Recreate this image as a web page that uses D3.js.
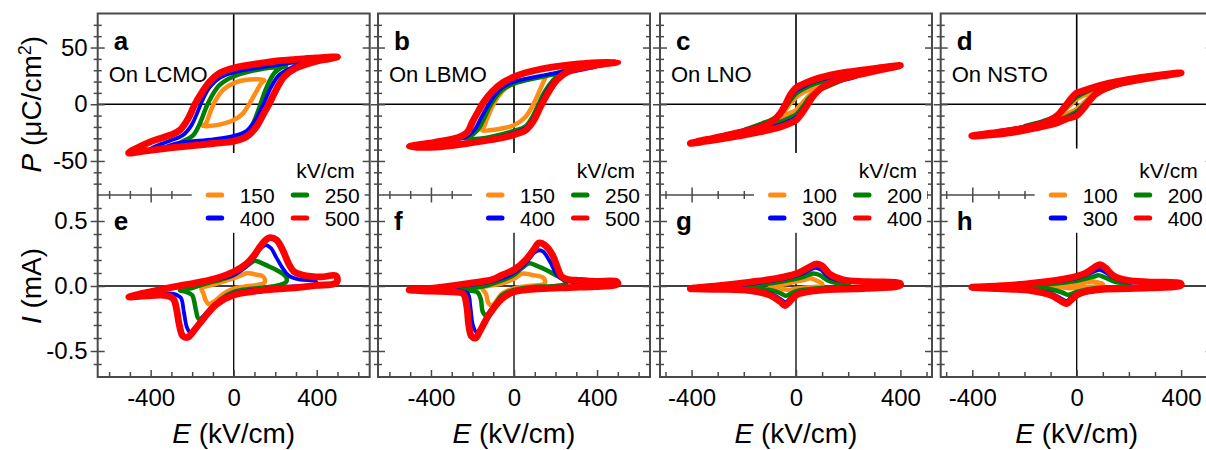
<!DOCTYPE html>
<html><head><meta charset="utf-8">
<script src="https://cdn.jsdelivr.net/npm/d3@7"></script>
<style>
body{margin:0;background:#fff}
svg{display:block}
text{font-family:"Liberation Sans",Arial,Helvetica,sans-serif;fill:#000}
</style></head>
<body><svg id="chart" width="1206" height="450"></svg>
<script>
// ---------------- DATA ----------------
const panelLetters = [["a","e"],["b","f"],["c","g"],["d","h"]];
const substrates = ["On LCMO","On LBMO","On LNO","On NSTO"];
const fieldsLBMO = ["150","250","400","500"];
const fieldsLNO = ["100","200","300","400"];
const seriesColors = ["#FF8C14","#008000","#0000FF","#FF0000"];
const xTickLabels = [-400, 0, 400];
const pTickLabels = [-50, 0, 50];
const iTickLabels = [-0.5, 0.0, 0.5];

// P-E loops, LCMO (E kV/cm, P uC/cm2)
const pLCMO150 = [[148,21],[61,21.6],[0,18.6],[-51,12.7],[-91,2.3],[-115,-8],[-134,-16.9],[-150,-19],[-83,-18.4],[0,-13.9],[45,-8],[77,0.9],[109,11.2],[133,18.6]];
const pLCMO250 = [[252,33.4],[140,31.3],[0,24.5],[-67,17.1],[-107,6.8],[-131,-2.1],[-163,-16.9],[-195,-27.3],[-259,-34.6],[-179,-34.6],[0,-30.8],[61,-25.8],[93,-16.9],[125,-2.1],[157,14.2],[196,27.5],[236,32.9]];
const pLCMO400 = [[410,39.5],[330,37.8],[220,35],[0,28],[-67,23.2],[-115,15.2],[-147,5],[-171,-5.5],[-203,-18.4],[-243,-27],[-307,-32.2],[-380,-37.2],[-410,-40.5],[-339,-38],[-259,-33.8],[-99,-30.9],[0,-27.9],[61,-23.6],[101,-15],[133,-3.6],[149,2.4],[180,15.2],[220,26],[284,32.8],[350,37]];
const pLCMO500 = [[500,41.7],[396,40.8],[300,39.5],[220,38.5],[140,36.4],[0,32],[-67,27.5],[-115,20],[-155,9.8],[-187,0],[-219,-12.5],[-259,-22.8],[-307,-27.3],[-402,-33.2],[-470,-39],[-506,-43],[-440,-41.5],[-402,-40.6],[-259,-37.6],[-99,-34.6],[0,-32.6],[61,-28.7],[109,-19.9],[141,-9.5],[170,0],[204,12.7],[244,24.5],[300,32],[396,37.8],[460,40]];
// I-E loops, LCMO (E kV/cm, I mA)
const iLCMO150 = [[-155,-0.02],[-100,0.01],[-40,0.04],[0,0.06],[40,0.085],[65,0.1],[100,0.09],[140,0.075],[150,0.05],[148,0.025],[100,0.005],[50,-0.005],[0,-0.02],[-50,-0.06],[-95,-0.12],[-120,-0.14],[-135,-0.11],[-145,-0.06]];
const iLCMO250 = [[-259,-0.035],[-200,-0.015],[-130,0.02],[-60,0.05],[0,0.085],[50,0.14],[85,0.18],[100,0.195],[130,0.18],[170,0.15],[210,0.12],[240,0.09],[255,0.06],[252,0.03],[200,0.0],[100,-0.02],[0,-0.045],[-60,-0.1],[-110,-0.18],[-150,-0.245],[-170,-0.25],[-180,-0.2],[-190,-0.12],[-200,-0.07],[-230,-0.045]];
const iLCMO400 = [[-410,-0.06],[-300,-0.015],[-163,0.025],[-83,0.05],[0,0.085],[60,0.15],[100,0.22],[130,0.29],[155,0.315],[180,0.29],[205,0.22],[235,0.14],[265,0.08],[316,0.05],[390,0.04],[400,0.025],[390,0.01],[316,0.0],[157,-0.02],[0,-0.055],[-83,-0.13],[-150,-0.24],[-190,-0.34],[-208,-0.36],[-225,-0.32],[-240,-0.2],[-255,-0.09],[-290,-0.06],[-360,-0.06]];
const iLCMO500 = [[-505,-0.085],[-420,-0.05],[-300,-0.01],[-163,0.03],[-83,0.06],[0,0.11],[61,0.17],[100,0.24],[135,0.32],[170,0.37],[205,0.355],[235,0.28],[265,0.17],[290,0.11],[330,0.085],[420,0.07],[490,0.08],[500,0.05],[490,0.02],[400,0.005],[316,-0.01],[157,-0.03],[0,-0.07],[-83,-0.14],[-140,-0.24],[-190,-0.34],[-222,-0.395],[-245,-0.385],[-262,-0.3],[-275,-0.18],[-290,-0.1],[-320,-0.075],[-420,-0.075]];

// P-E loops, LBMO
const pLBMO150 = [[152,24],[72,22.3],[0,18.8],[-56,11.3],[-96,1],[-128,-12],[-146,-20.5],[-152,-23],[-88,-22.3],[0,-18.5],[56,-11],[96,1],[128,14],[146,21.5]];
const pLBMO250 = [[248,30],[184,26.2],[56,21.1],[0,18.2],[-56,12.8],[-88,6.3],[-117,-2],[-144,-12.5],[-176,-23],[-216,-28.3],[-248,-29.5],[-168,-30.4],[0,-23.5],[56,-19.5],[91,-10.4],[117,-0.6],[144,9.8],[184,20.2],[224,27]];
const pLBMO400 = [[400,33.5],[296,30.7],[184,27],[56,22.3],[0,19.8],[-56,14.8],[-96,7.3],[-128,-2],[-160,-12.5],[-192,-23],[-232,-28.9],[-328,-32.4],[-400,-34.5],[-296,-35],[-136,-31.5],[0,-25.2],[56,-21],[96,-11],[123,-0.6],[152,9.8],[192,20.2],[264,27.7],[340,31]];
const pLBMO500 = [[500,37.2],[344,36],[184,32.7],[56,27.7],[0,24.1],[-56,18.8],[-104,11.3],[-144,2.4],[-168,-5],[-200,-15.5],[-224,-24.4],[-264,-28.9],[-376,-33.3],[-440,-35.2],[-504,-37.2],[-376,-37.8],[-216,-34.2],[-56,-29.5],[0,-26.8],[56,-22.9],[96,-14],[128,-2],[168,11.3],[208,21.7],[264,29.2],[392,34.2]];
// I-E loops, LBMO
const iLBMO150 = [[-152,-0.018],[-56,0.02],[0,0.055],[40,0.095],[88,0.085],[140,0.065],[150,0.04],[145,0.015],[72,0],[0,-0.018],[-56,-0.057],[-104,-0.148],[-122,-0.135],[-135,-0.06]];
const iLBMO250 = [[-264,-0.03],[-152,-0.005],[-56,0.045],[0,0.085],[40,0.14],[72,0.175],[110,0.155],[160,0.12],[200,0.085],[240,0.045],[252,0.02],[200,0.0],[104,-0.005],[0,-0.03],[-56,-0.07],[-104,-0.17],[-135,-0.225],[-150,-0.2],[-160,-0.1],[-175,-0.05],[-220,-0.035]];
const iLBMO400 = [[-400,-0.02],[-248,0.0],[-104,0.035],[0,0.1],[56,0.175],[100,0.26],[120,0.275],[140,0.265],[176,0.18],[205,0.09],[240,0.045],[300,0.025],[395,0.02],[400,0.005],[264,-0.005],[0,-0.04],[-56,-0.085],[-120,-0.21],[-160,-0.33],[-180,-0.355],[-198,-0.3],[-210,-0.16],[-222,-0.06],[-260,-0.035],[-330,-0.03]];
const iLBMO500 = [[-505,-0.03],[-376,-0.015],[-216,0.02],[-104,0.05],[-56,0.085],[0,0.125],[56,0.2],[95,0.28],[120,0.33],[152,0.31],[185,0.24],[210,0.14],[228,0.075],[260,0.05],[300,0.045],[392,0.035],[495,0.035],[500,0.015],[392,-0.005],[264,-0.012],[56,-0.03],[0,-0.045],[-56,-0.095],[-120,-0.22],[-165,-0.35],[-185,-0.4],[-205,-0.385],[-218,-0.3],[-228,-0.15],[-245,-0.06],[-300,-0.045],[-400,-0.04]];

// P-E loops, LNO
const pLNO100 = [[100,16],[60,14],[25,10],[0,6],[-20,1],[-30,-2],[-50,-8],[-75,-12.5],[-100,-15],[-60,-12],[-25,-8],[0,-5],[20,0],[35,4],[60,10],[80,13.5]];
const pLNO200 = [[200,24],[120,21],[60,17],[20,12.5],[0,9.5],[-20,4],[-32,0],[-50,-6],[-80,-12],[-130,-17],[-200,-23],[-130,-19.5],[-60,-15.5],[-20,-11.5],[0,-9],[20,-4],[33,0],[50,5.5],[80,11.5],[130,16.5]];
const pLNO300 = [[300,29.5],[200,26.5],[120,23],[60,19],[20,14.5],[0,12],[-20,6],[-35,0],[-55,-7],[-85,-13.5],[-140,-19],[-220,-24],[-300,-28.5],[-220,-26],[-140,-22.5],[-60,-18],[-20,-14],[0,-11.5],[20,-6],[38,0],[58,6.5],[90,13],[145,19],[220,23.5]];
const pLNO400 = [[400,34.2],[300,31.5],[200,28.5],[120,25],[60,21],[20,17],[0,14.5],[-20,9],[-40,0],[-60,-8],[-90,-15],[-140,-20.5],[-220,-25],[-310,-29.5],[-405,-34.5],[-310,-31.5],[-220,-28],[-140,-24.5],[-60,-20],[-20,-16.5],[0,-14],[25,-7],[45,0],[65,7],[95,14],[145,20],[220,25],[310,29.5]];
// I-E loops, LNO
const iLNO100 = [[-100,-0.01],[-40,0.015],[0,0.035],[30,0.045],[55,0.06],[80,0.04],[100,0.02],[100,0.005],[50,-0.01],[0,-0.02],[-25,-0.03],[-45,-0.025],[-70,-0.015]];
const iLNO200 = [[-200,-0.01],[-100,0.02],[0,0.055],[35,0.075],[65,0.097],[90,0.085],[120,0.045],[160,0.02],[200,0.015],[200,0.0],[100,-0.015],[0,-0.04],[-25,-0.065],[-40,-0.075],[-60,-0.055],[-100,-0.03],[-150,-0.02]];
const iLNO300 = [[-300,-0.015],[-176,0.015],[-74,0.045],[3,0.08],[30,0.1],[55,0.125],[75,0.14],[95,0.125],[125,0.07],[180,0.035],[300,0.02],[300,0.005],[180,-0.012],[79,-0.03],[3,-0.055],[-25,-0.1],[-40,-0.125],[-60,-0.1],[-100,-0.055],[-176,-0.03]];
const iLNO400 = [[-405,-0.02],[-304,0.0],[-176,0.03],[-74,0.058],[3,0.096],[28,0.12],[55,0.15],[79,0.17],[100,0.155],[130,0.09],[181,0.047],[270,0.033],[398,0.022],[400,0.005],[270,-0.018],[79,-0.035],[3,-0.068],[-29,-0.13],[-42,-0.15],[-61,-0.12],[-100,-0.07],[-176,-0.036],[-304,-0.025]];

// P-E loops, NSTO
const pNSTO100 = [[100,13],[60,11],[25,7.5],[0,4.5],[-25,-1],[-50,-6],[-75,-10],[-100,-12.5],[-60,-10.5],[-25,-7],[0,-4],[25,1],[50,6],[75,10]];
const pNSTO200 = [[200,20.5],[120,17],[60,13],[20,9],[0,6.5],[-25,1],[-50,-5],[-80,-10.5],[-130,-15],[-200,-19.5],[-130,-17],[-60,-13],[-20,-9],[0,-6.5],[25,-1],[50,5],[80,10],[130,14.5]];
const pNSTO300 = [[300,24.5],[200,21],[120,17.5],[60,13.5],[20,10],[0,8],[-25,2],[-40,-2],[-65,-8],[-100,-13],[-160,-17.5],[-230,-21],[-300,-23.5],[-230,-22.5],[-160,-19.5],[-80,-15.5],[-30,-11],[0,-8],[25,-2],[40,2],[65,8],[100,12.5],[160,17],[230,20.5]];
const pNSTO400 = [[400,27.7],[300,25.3],[200,22],[120,18.5],[60,14.5],[20,11.5],[0,10],[-25,4],[-45,-2],[-70,-9],[-110,-15],[-170,-19.5],[-250,-23],[-330,-25.5],[-402,-28],[-330,-27],[-250,-25],[-170,-21.5],[-90,-17.5],[-40,-13],[0,-10],[25,-4],[45,2],[70,8.5],[110,14],[170,18.5],[250,22],[330,25]];
// I-E loops, NSTO
const iNSTO100 = [[-100,-0.005],[-40,0.01],[0,0.02],[40,0.03],[62,0.035],[85,0.025],[100,0.015],[100,0.005],[50,-0.005],[0,-0.012],[-20,-0.018],[-40,-0.015],[-70,-0.008]];
const iNSTO200 = [[-200,-0.008],[-100,0.015],[0,0.04],[40,0.06],[70,0.075],[82,0.083],[110,0.065],[150,0.03],[200,0.015],[200,0.002],[100,-0.012],[30,-0.03],[0,-0.045],[-20,-0.06],[-33,-0.068],[-55,-0.05],[-100,-0.025],[-150,-0.015]];
const iNSTO300 = [[-300,-0.01],[-176,0.012],[-74,0.035],[0,0.06],[35,0.085],[65,0.11],[88,0.125],[110,0.105],[140,0.065],[190,0.03],[300,0.018],[300,0.005],[190,-0.01],[100,-0.02],[30,-0.04],[0,-0.06],[-25,-0.095],[-39,-0.115],[-60,-0.095],[-100,-0.055],[-176,-0.028]];
const iNSTO400 = [[-402,-0.01],[-300,0.0],[-176,0.02],[-74,0.045],[0,0.075],[35,0.1],[65,0.14],[88,0.165],[110,0.14],[140,0.08],[190,0.045],[280,0.03],[398,0.02],[400,0.005],[280,-0.015],[100,-0.025],[30,-0.045],[0,-0.07],[-25,-0.115],[-39,-0.135],[-60,-0.115],[-100,-0.07],[-176,-0.035],[-300,-0.02]];

// ---------------- LAYOUT ----------------
const svg = d3.select("#chart");
const panelLeft = [97.7, 378, 660, 940.7];
const panelW = 272;
const topY0 = 13.5, midY = 195, botY1 = 377;
const xExtent = [655, 655, 521, 521];
const lineWidths = [4.5, 4.5, 3.8, 6.8];
const borderColor = "#4a4a4a";

const panels = [
  {fields: fieldsLBMO, P: [pLCMO150,pLCMO250,pLCMO400,pLCMO500], I: [iLCMO150,iLCMO250,iLCMO400,iLCMO500], vEnd: -43},
  {fields: fieldsLBMO, P: [pLBMO150,pLBMO250,pLBMO400,pLBMO500], I: [iLBMO150,iLBMO250,iLBMO400,iLBMO500], vEnd: -43},
  {fields: fieldsLNO,  P: [pLNO100,pLNO200,pLNO300,pLNO400],     I: [iLNO100,iLNO200,iLNO300,iLNO400],     vEnd: -43},
  {fields: fieldsLNO,  P: [pNSTO100,pNSTO200,pNSTO300,pNSTO400], I: [iNSTO100,iNSTO200,iNSTO300,iNSTO400], vEnd: -39}
];

const yP = d3.scaleLinear().domain([-80, 80]).range([midY, topY0]);
const yI = d3.scaleLinear().domain([-0.7, 0.7]).range([botY1, midY]);

function styleTicks(g, color) {
  g.select(".domain").remove();
  g.selectAll(".tick line").attr("stroke", color).attr("stroke-width", 1.5);
  g.selectAll(".tick text").attr("font-size", 24).attr("font-family", "Liberation Sans, Arial, sans-serif").attr("fill", "#000");
}

panels.forEach((p, k) => {
  const L = panelLeft[k], R = L + panelW;
  const x = d3.scaleLinear().domain([-xExtent[k], xExtent[k]]).range([L, R]);
  const minorX = d3.range(-600, 601, 100).filter(v => Math.abs(v) <= xExtent[k] && !xTickLabels.includes(v));
  const g = svg.append("g");

  // ---- zero lines
  g.append("line").attr("x1", L).attr("x2", R).attr("y1", yP(0)).attr("y2", yP(0)).attr("stroke", "#000").attr("stroke-width", 1.6);
  g.append("line").attr("x1", x(0)).attr("x2", x(0)).attr("y1", yP(80)).attr("y2", yP(p.vEnd)).attr("stroke", "#000").attr("stroke-width", 1.6);
  g.append("line").attr("x1", L).attr("x2", R).attr("y1", yI(0)).attr("y2", yI(0)).attr("stroke", "#000").attr("stroke-width", 1.3);
  g.append("line").attr("x1", x(0)).attr("x2", x(0)).attr("y1", yI(0.41)).attr("y2", yI(-0.7)).attr("stroke", "#000").attr("stroke-width", 1.3);

  // ---- data loops
  const lineP = d3.line().x(d => x(d[0])).y(d => yP(d[1])).curve(d3.curveCatmullRomClosed.alpha(0.5));
  const lineI = d3.line().x(d => x(d[0])).y(d => yI(d[1])).curve(d3.curveCatmullRomClosed.alpha(0.5));
  p.P.forEach((arr, s) => {
    g.append("path").attr("d", lineP(arr)).attr("fill", "none").attr("stroke", seriesColors[s])
      .attr("stroke-width", lineWidths[s]).attr("stroke-linejoin", "round").attr("stroke-linecap", "round");
  });
  p.I.forEach((arr, s) => {
    g.append("path").attr("d", lineI(arr)).attr("fill", "none").attr("stroke", seriesColors[s])
      .attr("stroke-width", lineWidths[s]).attr("stroke-linejoin", "round").attr("stroke-linecap", "round");
  });

  // ---- frame
  const frame = svg.append("g");
  frame.append("path").attr("d", `M${L},${midY}V${topY0}H${R}V${botY1}H${L}Z`).attr("fill", "none").attr("stroke", borderColor).attr("stroke-width", 2);
  frame.append("line").attr("x1", L).attr("x2", R).attr("y1", midY).attr("y2", midY).attr("stroke", borderColor).attr("stroke-width", 1.6);

  // left axes: crossing ticks; right axes: inward ticks
  [[yP, pTickLabels, d3.range(-70, 71, 10).filter(v => !pTickLabels.includes(v)), d3.format("d")],
   [yI, iTickLabels, d3.range(-6, 7, 1).map(v => v / 10).filter(v => Math.abs(v) !== 0.5 && v !== 0), d3.format(".1f")]]
  .forEach(([ys, majors, minors, fmt]) => {
    const gm = frame.append("g").attr("transform", `translate(${L},0)`)
      .call(d3.axisLeft(ys).tickValues(minors).tickSize(4).tickFormat(""));
    styleTicks(gm, borderColor); gm.selectAll(".tick line").attr("x1", 4);
    const gM = frame.append("g").attr("transform", `translate(${L},0)`)
      .call(d3.axisLeft(ys).tickValues(majors).tickSize(7).tickPadding(3).tickFormat(k === 0 ? (v => fmt(v).replace("\u2212", "-")) : ""));
    styleTicks(gM, borderColor); gM.selectAll(".tick line").attr("x1", 7);
    const rm = frame.append("g").attr("transform", `translate(${R},0)`)
      .call(d3.axisLeft(ys).tickValues(minors).tickSize(4).tickFormat(""));
    styleTicks(rm, borderColor);
    const rM = frame.append("g").attr("transform", `translate(${R},0)`)
      .call(d3.axisLeft(ys).tickValues(majors).tickSize(7).tickFormat(""));
    styleTicks(rM, borderColor);
  });

  // middle axis (bottom of top panel): crossing ticks
  const mm = frame.append("g").attr("transform", `translate(0,${midY})`)
    .call(d3.axisBottom(x).tickValues(minorX).tickSize(4).tickFormat(""));
  styleTicks(mm, borderColor); mm.selectAll(".tick line").attr("y1", -4);
  const mM = frame.append("g").attr("transform", `translate(0,${midY})`)
    .call(d3.axisBottom(x).tickValues(xTickLabels).tickSize(7.5).tickFormat(""));
  styleTicks(mM, borderColor); mM.selectAll(".tick line").attr("y1", -7.5);

  // bottom axis: inward ticks, labels below
  const bm = frame.append("g").attr("transform", `translate(0,${botY1})`)
    .call(d3.axisBottom(x).tickValues(minorX).tickSize(-5).tickFormat(""));
  styleTicks(bm, borderColor);
  const bM = frame.append("g").attr("transform", `translate(0,${botY1})`)
    .call(d3.axisBottom(x).tickValues(xTickLabels).tickSize(-7).tickFormat(d => d3.format("d")(d).replace("\u2212", "-")));
  styleTicks(bM, borderColor);
  bM.selectAll(".tick text").attr("y", 29).attr("dy", 0);

  // x title
  const xt = frame.append("text").attr("x", L + panelW / 2).attr("y", 443).attr("text-anchor", "middle").attr("font-size", 28);
  xt.append("tspan").attr("font-style", "italic").text("E");
  xt.append("tspan").text(" (kV/cm)");

  // panel letters and substrate label
  frame.append("text").attr("x", L + 16).attr("y", 50).attr("font-size", 26).attr("font-weight", "bold").text(panelLetters[k][0]);
  frame.append("text").attr("x", L + 16).attr("y", 230).attr("font-size", 26).attr("font-weight", "bold").text(panelLetters[k][1]);
  frame.append("text").attr("x", L + 11).attr("y", 81.5).attr("font-size", 22).text(substrates[k]);

  // legend
  const lg = svg.append("g");
  lg.append("rect").attr("x", R - 178).attr("y", 186).attr("width", 173).attr("height", 42).attr("fill", "#fff");
  lg.append("text").attr("x", R - 15).attr("y", 178).attr("text-anchor", "end").attr("font-size", 21).text("kV/cm");
  const pos = [[R - 164, 195], [R - 79, 195], [R - 164, 218], [R - 79, 218]];
  p.fields.forEach((f, s) => {
    const [lx, ly] = pos[s];
    lg.append("line").attr("x1", lx + 2.5).attr("x2", lx + 16).attr("y1", ly).attr("y2", ly)
      .attr("stroke", seriesColors[s]).attr("stroke-width", 5).attr("stroke-linecap", "round");
    lg.append("text").attr("x", lx + 34).attr("y", ly + 7.5).attr("font-size", 21).text(f);
  });
});

// y titles
const yt1 = svg.append("text").attr("transform", `translate(41,${(topY0 + midY) / 2}) rotate(-90)`).attr("text-anchor", "middle").attr("font-size", 28);
yt1.append("tspan").attr("font-style", "italic").text("P");
yt1.append("tspan").text(" (\u03BCC/cm");
yt1.append("tspan").attr("font-size", 18).attr("dy", -10).text("2");
yt1.append("tspan").attr("dy", 10).text(")");
const yt2 = svg.append("text").attr("transform", `translate(41,${(midY + botY1) / 2}) rotate(-90)`).attr("text-anchor", "middle").attr("font-size", 28);
yt2.append("tspan").attr("font-style", "italic").text("I");
yt2.append("tspan").text(" (mA)");
</script></body></html>
